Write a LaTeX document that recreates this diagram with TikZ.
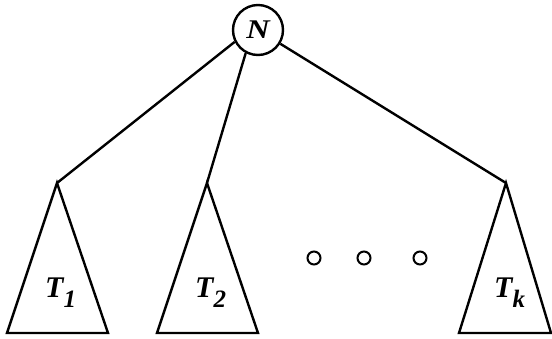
\documentclass[tikz,border=0pt]{standalone}
\usepackage{fontspec}
\setmainfont{Liberation Serif}
\usetikzlibrary{positioning}

\newcommand{\tlabel}[1]{T\raisebox{-10pt}{\fontsize{25}{25}\selectfont #1}}

\begin{document}
\begin{tikzpicture}[x=1pt,y=-1pt,line width=2.4pt,
  lbl/.style={anchor=base west,inner sep=0pt,font=\fontsize{30}{30}\selectfont\bfseries\itshape},
  dot/.style={draw,circle,minimum size=13pt,inner sep=0pt,line width=2pt}]
\useasboundingbox (0,0) rectangle (552,338);
% Nodos principales
\node[draw, circle, minimum size=50pt, inner sep=0pt, font=\fontsize{27}{27}\selectfont\bfseries\itshape] (root) at (258,30) {\scalebox{1.2}[1]{N}};
\coordinate (a1) at (57,183);
\coordinate (a2) at (207,183);
\coordinate (ak) at (506,183);

% Subarboles
\draw[line join=miter] (a1) -- ++(-50,150) -- ++(101,0) -- cycle;
\draw[line join=miter] (a2) -- ++(-50,150) -- ++(101,0) -- cycle;
\draw[line join=miter] (ak) -- ++(-47,150) -- ++(92,0) -- cycle;
\node[lbl] (t1) at (44,297) {\tlabel{1}};
\node[lbl] (t2) at (194,297) {\tlabel{2}};
\node[lbl] (tk) at (493,297) {\tlabel{k}};

% Puntos
\foreach \x/\n in {314/d1, 364/d2, 420/d3}
  \node[dot] (\n) at (\x,258) {};

% Aristas
\draw (root.207) -- (a1);
\draw (root.242) -- (a2);
\draw (root) -- (ak);
\end{tikzpicture}
\end{document}
